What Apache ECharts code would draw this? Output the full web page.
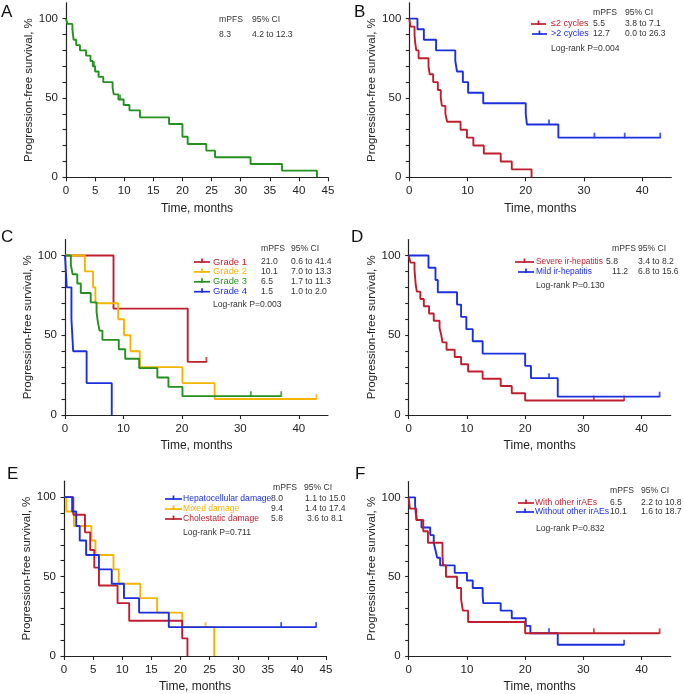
<!DOCTYPE html>
<html>
<head>
<meta charset="utf-8">
<script src="https://cdn.jsdelivr.net/npm/echarts@6/dist/echarts.min.js"></script>
<style>
  html, body { margin: 0; padding: 0; background: #fff; }
  #chart { width: 684px; height: 694px; }
</style>
</head>
<body>
<div id="chart"></div>
<script>
// A - all patients
const aTime = [0, 0.25, 1.1, 1.2, 1.3, 1.75, 2.4, 3.45, 4.2, 4.6, 5.0, 5.6, 6.4, 8.0, 8.2, 9.0, 9.9, 10.9, 12.7, 17.7, 20.0, 20.9, 24.1, 25.6, 31.7, 37.1, 43.1];
const aSurv = [100, 96.7, 93.3, 90.0, 86.7, 83.3, 80.0, 76.7, 73.3, 70.0, 66.7, 63.3, 60.0, 56.7, 52.3, 49.0, 45.6, 42.2, 37.8, 33.6, 25.6, 21.0, 16.8, 12.6, 8.4, 4.2, 0];
const aCens = [4.8, 9.3];

// B - cycles
const bLowTime = [0, 0.2, 0.9, 1.0, 1.2, 1.6, 3.3, 3.5, 4.1, 4.9, 5.4, 5.6, 6.2, 6.5, 8.8, 9.9, 11.0, 12.8, 15.7, 17.6, 21.0];
const bLowSurv = [100, 95, 90, 85, 80, 75, 70, 65, 60, 55, 50, 45, 40, 35, 30, 25, 20, 15, 10, 5, 0];
const bLowCens = [];
const bHighTime = [0, 1.4, 2.5, 4.6, 7.9, 8.2, 9.2, 10.1, 12.7, 20.0, 20.2, 25.6];
const bHighSurv = [100, 93.3, 86.7, 80, 73.3, 66.7, 60, 53.3, 46.7, 40, 33.3, 25];
const bHighCens = [24.0, 31.8, 37.0, 43.1];

// C - grades
const cG1Time = [0, 8.3, 21.0];
const cG1Surv = [100, 66.7, 33.3];
const cG1Cens = [24.2];
const cG2Time = [0, 3.4, 4.8, 5.2, 9.1, 10.1, 11.2, 12.8, 20.1, 25.6];
const cG2Surv = [100, 90, 80, 70, 60, 50, 40, 30, 20, 10];
const cG2Cens = [43.0];
const cG3Time = [0, 1.0, 1.3, 2.1, 2.7, 4.4, 5.4, 5.6, 5.9, 6.4, 9.2, 10.3, 12.7, 15.8, 17.7, 20.1];
const cG3Surv = [100, 94.1, 88.2, 82.4, 76.5, 70.6, 64.7, 58.8, 52.9, 47.1, 41.2, 35.3, 29.4, 23.5, 17.6, 11.8];
const cG3Cens = [31.8, 37.0];
const cG4Time = [0, 0.3, 1.1, 1.4, 3.7, 8.0];
const cG4Surv = [100, 80, 60, 40, 20, 0];
const cG4Cens = [];

// D - severity
const dSevTime = [0, 0.3, 1.0, 1.1, 1.2, 1.4, 2.0, 2.6, 3.5, 4.3, 5.3, 5.6, 5.8, 6.5, 7.9, 9.0, 10.2, 12.7, 15.8, 17.7, 20.0];
const dSevSurv = [100, 95.5, 90.9, 86.4, 81.8, 77.3, 72.7, 68.2, 63.6, 59.1, 54.5, 50.0, 45.5, 40.9, 36.4, 31.8, 27.3, 22.7, 18.2, 13.6, 9.1];
const dSevCens = [31.8, 37.0];
const dMildTime = [0, 3.4, 4.6, 5.0, 8.3, 9.0, 9.9, 11.0, 12.7, 20.0, 21.0, 25.6];
const dMildSurv = [100, 92.3, 84.6, 76.9, 69.2, 61.5, 53.8, 46.2, 38.5, 30.8, 23.1, 11.5];
const dMildCens = [24.1, 43.1];

// E - damage pattern
const eHepTime = [0, 1.4, 2.1, 2.7, 3.8, 6.0, 8.2, 10.3, 12.9, 18.0];
const eHepSurv = [100, 90.9, 81.8, 72.7, 63.6, 54.5, 45.5, 36.4, 27.3, 18.2];
const eHepCens = [37.3, 43.3];
const eMixTime = [0, 0.4, 1.7, 4.7, 5.4, 8.5, 9.4, 13.1, 16.0, 20.3, 25.8];
const eMixSurv = [100, 90.9, 81.8, 72.7, 63.6, 54.5, 45.5, 36.4, 27.3, 18.2, 0];
const eMixCens = [24.3];
const eChoTime = [0, 1.6, 3.6, 4.5, 5.2, 6.0, 9.2, 11.2, 20.3, 21.2];
const eChoSurv = [100, 88.9, 77.8, 66.7, 55.6, 44.4, 33.3, 22.2, 11.1, 0];
const eChoCens = [];

// F - other irAEs
const fWithTime = [0, 0.2, 1.3, 2.5, 3.3, 5.8, 5.9, 6.4, 8.3, 9.0, 9.3, 10.2, 20.0];
const fWithSurv = [100, 92.9, 85.7, 78.6, 71.4, 64.3, 57.1, 50.0, 42.9, 35.7, 28.6, 21.4, 14.3];
const fWithCens = [31.8, 43.1];
const fWoTime = [0, 1.1, 1.2, 1.4, 2.2, 3.7, 4.3, 4.6, 4.9, 5.4, 7.9, 10.0, 11.0, 12.7, 12.8, 15.8, 17.7, 20.1, 20.9, 25.6];
const fWoSurv = [100, 95.2, 90.5, 85.7, 81.0, 76.2, 71.4, 66.7, 61.9, 57.1, 52.4, 47.6, 42.9, 38.1, 33.3, 28.6, 23.8, 19.0, 14.3, 7.1];
const fWoCens = [24.1, 37.0];

const panelLetters = ['A', 'B', 'C', 'D', 'E', 'F'];
const yTickLabels = [0, 50, 100];

const GREEN = '#23901f', RED = '#bf1e2e', BLUE = '#1c2fdc', YELLOW = '#f4b400';
const FONT = '"Liberation Sans", Arial, sans-serif';
const SMALL = 8.6;

const grids = [
  { left: 66, top: 2.8, width: 262, height: 174.5 },
  { left: 409.3, top: 2.8, width: 262, height: 174.5 },
  { left: 65, top: 239.5, width: 263, height: 175.5 },
  { left: 408.7, top: 239.5, width: 262, height: 175.5 },
  { left: 64, top: 481.2, width: 262, height: 174.9 },
  { left: 408.7, top: 481.5, width: 262, height: 175 }
];
const xStep = [5, 10, 10, 10, 5, 10];

const curves = [
  { p: 0, t: aTime, s: aSurv, c: aCens, color: GREEN },
  { p: 1, t: bLowTime, s: bLowSurv, c: bLowCens, color: RED },
  { p: 1, t: bHighTime, s: bHighSurv, c: bHighCens, color: BLUE },
  { p: 2, t: cG1Time, s: cG1Surv, c: cG1Cens, color: RED },
  { p: 2, t: cG2Time, s: cG2Surv, c: cG2Cens, color: YELLOW },
  { p: 2, t: cG3Time, s: cG3Surv, c: cG3Cens, color: GREEN },
  { p: 2, t: cG4Time, s: cG4Surv, c: cG4Cens, color: BLUE },
  { p: 3, t: dSevTime, s: dSevSurv, c: dSevCens, color: RED },
  { p: 3, t: dMildTime, s: dMildSurv, c: dMildCens, color: BLUE },
  { p: 4, t: eMixTime, s: eMixSurv, c: eMixCens, color: YELLOW },
  { p: 4, t: eChoTime, s: eChoSurv, c: eChoCens, color: RED },
  { p: 4, t: eHepTime, s: eHepSurv, c: eHepCens, color: BLUE },
  { p: 5, t: fWoTime, s: fWoSurv, c: fWoCens, color: BLUE },
  { p: 5, t: fWithTime, s: fWithSurv, c: fWithCens, color: RED }
];

function stepPoints(times, surv, cens) {
  const pts = times.map((t, i) => [t, surv[i]]);
  const last = cens.length ? Math.max(...cens) : 0;
  if (last > times[times.length - 1]) pts.push([last, surv[surv.length - 1]]);
  return pts;
}
function censorPoints(times, surv, cens) {
  return cens.map(c => {
    let s = surv[0];
    times.forEach((t, i) => { if (t <= c) s = surv[i]; });
    return [c, s];
  });
}
function range(a, b, st) {
  const out = [];
  for (let v = a; v <= b; v += st) out.push(v);
  return out;
}

const xAxis = grids.map((g, i) => ({
  type: 'value', gridIndex: i, min: 0, max: 45,
  name: 'Time, months', nameLocation: 'middle', nameGap: 25,
  nameTextStyle: { fontSize: 12, color: '#222', fontFamily: FONT },
  axisLine: { show: true, lineStyle: { color: '#222', width: 1.2 } },
  axisTick: { show: true, length: 4, lineStyle: { color: '#222', width: 1.1 },
    customValues: range(0, 45 - (xStep[i] === 10 ? 5 : 0), xStep[i]) },
  axisLabel: { fontSize: 11.5, color: '#222', margin: 8, fontFamily: FONT,
    customValues: range(0, 45 - (xStep[i] === 10 ? 5 : 0), xStep[i]) },
  splitLine: { show: false }
}));

const yAxis = grids.map((g, i) => ({
  type: 'value', gridIndex: i, min: 0, max: 110,
  name: 'Progression-free survival, %', nameLocation: 'middle', nameGap: 30,
  nameTextStyle: { fontSize: 11.5, color: '#222', fontFamily: FONT },
  axisLine: { show: true, lineStyle: { color: '#222', width: 1.2 } },
  axisTick: { show: true, length: 3.5, lineStyle: { color: '#222', width: 1.1 },
    customValues: range(0, 100, 10) },
  axisLabel: { fontSize: 11.5, color: '#222', margin: 8, fontFamily: FONT,
    customValues: yTickLabels },
  splitLine: { show: false }
}));

const series = [];
curves.forEach(cv => {
  series.push({
    type: 'line', xAxisIndex: cv.p, yAxisIndex: cv.p, step: 'end',
    symbol: 'none', data: stepPoints(cv.t, cv.s, cv.c),
    lineStyle: { color: cv.color, width: 1.9 }, silent: true
  });
  if (cv.c.length) {
    series.push({
      type: 'scatter', xAxisIndex: cv.p, yAxisIndex: cv.p,
      symbol: 'rect', symbolSize: [1.8, 5.5], symbolOffset: [0, -2.2],
      itemStyle: { color: cv.color }, data: censorPoints(cv.t, cv.s, cv.c), silent: true
    });
  }
});

// text helpers
const graphic = [];
function txt(x, y, s, color, size) {
  graphic.push({ type: 'text', x: x, y: y, z: 100,
    style: { text: s, fill: color || '#333', font: (size || SMALL) + 'px ' + FONT, verticalAlign: 'middle', align: 'left' } });
}
function sample(x1, x2, y, color) {
  graphic.push({ type: 'line', z: 100, shape: { x1: x1, y1: y, x2: x2, y2: y }, style: { stroke: color, lineWidth: 1.7 } });
  const xm = (x1 + x2) / 2;
  graphic.push({ type: 'line', z: 100, shape: { x1: xm, y1: y - 3.5, x2: xm, y2: y + 1 }, style: { stroke: color, lineWidth: 1.7 } });
}

// panel letters
const letterPos = [[1, 12], [354, 12], [1, 237], [351, 237], [7, 474], [355, 474]];
letterPos.forEach((p, i) => txt(p[0], p[1], panelLetters[i], '#111', 17));

// A
txt(219, 20, 'mPFS'); txt(252, 20, '95% CI');
txt(219, 35, '8.3'); txt(252, 35, '4.2 to 12.3');

// B
txt(593, 13, 'mPFS'); txt(625, 13, '95% CI');
sample(531, 546, 24, RED); txt(551, 24, '≤2 cycles', RED, 9); txt(593, 24, '5.5'); txt(625, 24, '3.8 to 7.1');
sample(532, 547, 34, BLUE); txt(551, 34, '>2 cycles', BLUE, 9); txt(593, 34, '12.7'); txt(625, 34, '0.0 to 26.3');
txt(551, 49, 'Log-rank P=0.004');

// C
txt(261, 249, 'mPFS'); txt(291, 249, '95% CI');
const cLabels = [['Grade 1', RED, '21.0', '0.6 to 41.4'], ['Grade 2', YELLOW, '10.1', '7.0 to 13.3'],
  ['Grade 3', GREEN, '6.5', '1.7 to 11.3'], ['Grade 4', BLUE, '1.5', '1.0 to 2.0']];
cLabels.forEach((r, k) => {
  const y = 262 + k * 9.9;
  sample(194, 210, y, r[1]); txt(213, y, r[0], r[1], 9.4); txt(261, y, r[2]); txt(291, y, r[3]);
});
txt(213, 305, 'Log-rank P=0.003');

// D
txt(612, 249, 'mPFS'); txt(638, 249, '95% CI');
sample(515, 534, 262, RED); txt(536, 262, 'Severe ir-hepatitis', RED, 8.3); txt(606, 262, '5.8'); txt(638, 262, '3.4 to 8.2');
sample(518, 534, 272, BLUE); txt(536, 272, 'Mild ir-hepatitis', BLUE, 8.3); txt(612, 272, '11.2'); txt(638, 272, '6.8 to 15.6');
txt(536, 286, 'Log-rank P=0.130');

// E
txt(273, 488, 'mPFS'); txt(304, 488, '95% CI');
sample(165, 182, 499, BLUE); txt(183, 499, 'Hepatocellular damage', BLUE); txt(271, 499, '8.0'); txt(305, 499, '1.1 to 15.0');
sample(165, 182, 509, YELLOW); txt(183, 509, 'Mixed damage', YELLOW); txt(271, 509, '9.4'); txt(305, 509, '1.4 to 17.4');
sample(165, 182, 519, RED); txt(183, 519, 'Cholestatic damage', RED); txt(271, 519, '5.8'); txt(307, 519, '3.6 to 8.1');
txt(183, 533, 'Log-rank P=0.711');
graphic.push({ type: 'rect', z: 101, shape: { x: 346, y: 492, width: 16, height: 32 }, style: { fill: '#fff' } });

// F
txt(610, 491, 'mPFS'); txt(641, 491, '95% CI');
sample(518, 534, 503, RED); txt(535, 503, 'With other irAEs', RED); txt(610, 503, '6.5'); txt(641, 503, '2.2 to 10.8');
sample(516, 534, 512, BLUE); txt(535, 512, 'Without other irAEs', BLUE); txt(610, 512, '10.1'); txt(641, 512, '1.6 to 18.7');
txt(536, 529, 'Log-rank P=0.832');

const chart = echarts.init(document.getElementById('chart'));
chart.setOption({
  animation: false,
  backgroundColor: '#fff',
  textStyle: { fontFamily: FONT },
  grid: grids,
  xAxis: xAxis,
  yAxis: yAxis,
  series: series,
  graphic: graphic
});
</script>
</body>
</html>
